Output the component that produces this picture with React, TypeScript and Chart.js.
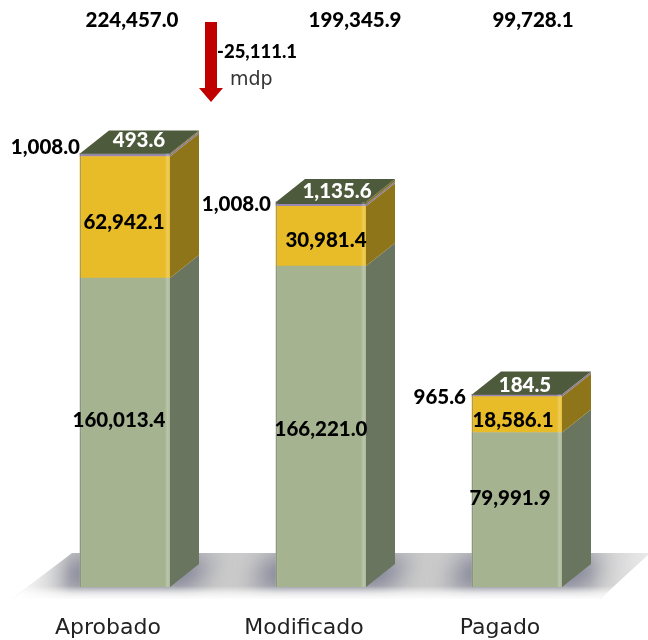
import React, { useEffect, useRef } from "react";
import { Chart, registerables } from "chart.js";

Chart.register(...registerables);

const categories = ["Aprobado", "Modificado", "Pagado"];
const baseValues = [160013.4, 166221.0, 79991.9];
const midValues = [62942.1, 30981.4, 18586.1];
const thinValues = [1008.0, 1008.0, 965.6];
const capValues = [493.6, 1135.6, 184.5];
const totals = ["224,457.0", "199,345.9", "99,728.1"];
const changeLabel = "-25,111.1";
const unitLabel = "mdp";

const FRONT = ["#a6b391", "#e8bc28", "#9a88b4", "#4d5a3b"];
const SIDE = ["#6a7560", "#8f7519", "#8a7a8f", "#7f6f20"];
const TOP = "#4d5a3b";
const DX = 29;
const DY = -23;
const BOLD = "900 20.5px Lato";
const fmt = (v: number) =>
  v.toLocaleString("en-US", { minimumFractionDigits: 1, maximumFractionDigits: 1 });

// label nudges (relative to the bar centre x and the segment centre y)
const baseNudge = [[-6, -12], [0, 3], [-7, -11]];
const midNudge = [[-1, 5], [5, 4], [-4, 6]];
const capNudge = [[14, -13], [16, -11], [8, -9]];
const thinNudge = [[0, -7], [-5, 0], [-6, 3]];
const totalX = [7, 34, 16];

const polygon = (ctx: CanvasRenderingContext2D, pts: number[][], fill: string | CanvasGradient) => {
  ctx.beginPath();
  pts.forEach((p, i) => (i ? ctx.lineTo(p[0], p[1]) : ctx.moveTo(p[0], p[1])));
  ctx.closePath();
  ctx.fillStyle = fill;
  ctx.fill();
};

const floorPlugin = {
  id: "floor",
  beforeDatasetsDraw(chart: any) {
    const ctx = chart.ctx as CanvasRenderingContext2D;
    const b = chart.chartArea.bottom;
    const shape = [[72, b - 34], [650, b - 34], [600, b + 12], [12, b + 12]];
    ctx.save();
    ctx.beginPath();
    shape.forEach((p, i) => (i ? ctx.lineTo(p[0], p[1]) : ctx.moveTo(p[0], p[1])));
    ctx.closePath();
    ctx.clip();
    ctx.fillStyle = "#cbcbcb";
    ctx.fillRect(0, b - 40, 660, 60);
    // soft shadow around every bar foot
    const meta = chart.getDatasetMeta(0);
    ctx.filter = "blur(12px)";
    meta.data.forEach((el: any) => {
      const l = el.x - el.width / 2;
      const r = el.x + el.width / 2;
      polygon(
        ctx,
        [[l - 8, b - 30], [r + DX + 16, b - 30], [r + 22, b + 2], [l - 24, b + 2]],
        "rgba(120,122,142,0.95)"
      );
    });
    ctx.filter = "none";
    // fade of the bottom and outer edges
    const bottom = ctx.createLinearGradient(0, b - 1, 0, b + 12);
    bottom.addColorStop(0, "rgba(255,255,255,0)");
    bottom.addColorStop(0.55, "rgba(255,255,255,0.7)");
    bottom.addColorStop(1, "rgba(255,255,255,0.97)");
    ctx.fillStyle = bottom;
    ctx.fillRect(0, b - 1, 660, 14);
    const left = ctx.createLinearGradient(14, 0, 70, 0);
    left.addColorStop(0, "rgba(255,255,255,1)");
    left.addColorStop(1, "rgba(255,255,255,0)");
    ctx.fillStyle = left;
    ctx.fillRect(0, b - 40, 70, 60);
    const right = ctx.createLinearGradient(590, 0, 648, 0);
    right.addColorStop(0, "rgba(255,255,255,0)");
    right.addColorStop(1, "rgba(255,255,255,0.6)");
    ctx.fillStyle = right;
    ctx.fillRect(590, b - 40, 60, 60);
    ctx.restore();
  },
};

const facesPlugin = {
  id: "faces",
  afterDatasetsDraw(chart: any) {
    const ctx = chart.ctx as CanvasRenderingContext2D;
    const metas = chart.data.datasets.map((_: any, i: number) => chart.getDatasetMeta(i));
    categories.forEach((_, c) => {
      metas.forEach((m: any, s: number) => {
        const el = m.data[c];
        const right = el.x + el.width / 2;
        polygon(
          ctx,
          [[right, el.y], [right + DX, el.y + DY], [right + DX, el.base + DY], [right, el.base]],
          SIDE[s]
        );
      });
      const top = metas[metas.length - 1].data[c];
      const l = top.x - top.width / 2;
      const r = top.x + top.width / 2;
      polygon(ctx, [[l, top.y], [l + DX, top.y + DY], [r + DX, top.y + DY], [r, top.y]], TOP);
      // highlight on the right edge and shade on the left edge of the front
      const first = metas[0].data[c];
      const grad = ctx.createLinearGradient(l, 0, r, 0);
      grad.addColorStop(0, "rgba(70,70,60,0.55)");
      grad.addColorStop(0.025, "rgba(255,255,255,0)");
      grad.addColorStop(0.94, "rgba(255,255,255,0)");
      grad.addColorStop(0.975, "rgba(255,255,255,0.25)");
      grad.addColorStop(1, "rgba(255,255,255,0.05)");
      ctx.fillStyle = grad;
      ctx.fillRect(l, top.y, r - l, first.base - top.y);
    });
  },
  afterDraw(chart: any) {
    const ctx = chart.ctx as CanvasRenderingContext2D;
    const metas = chart.data.datasets.map((_: any, i: number) => chart.getDatasetMeta(i));
    ctx.save();
    ctx.textBaseline = "middle";
    ctx.textAlign = "center";
    ctx.font = BOLD;
    categories.forEach((_, c) => {
      const a = metas[0].data[c];
      const mid = metas[1].data[c];
      const thin = metas[2].data[c];
      const cap = metas[3].data[c];
      const center = (el: any) => (el.y + el.base) / 2;
      ctx.fillStyle = "#000";
      ctx.fillText(fmt(baseValues[c]), a.x + baseNudge[c][0], center(a) + baseNudge[c][1]);
      ctx.fillText(fmt(midValues[c]), mid.x + midNudge[c][0], center(mid) + midNudge[c][1]);
      ctx.fillText(totals[c], a.x + totalX[c], 20);
      ctx.textAlign = "right";
      ctx.fillText(
        fmt(thinValues[c]),
        thin.x - thin.width / 2 + thinNudge[c][0],
        thin.y + thinNudge[c][1]
      );
      ctx.textAlign = "center";
      ctx.fillStyle = "#fff";
      ctx.fillText(fmt(capValues[c]), cap.x + capNudge[c][0], cap.y + capNudge[c][1]);
    });
    // change annotation
    const x0 = metas[0].data[0].x;
    const ax = x0 + 86;
    polygon(
      ctx,
      [[ax - 6, 22], [ax + 6, 22], [ax + 6, 88], [ax + 12, 88], [ax, 102], [ax - 12, 88], [ax - 6, 88]],
      "#c00000"
    );
    ctx.fillStyle = "#000";
    ctx.font = "900 18.5px Lato";
    ctx.textAlign = "left";
    ctx.fillText(changeLabel, ax + 6, 52);
    ctx.font = "19px 'DejaVu Sans'";
    ctx.fillStyle = "#333";
    ctx.fillText(unitLabel, ax + 19, 80);
    ctx.restore();
  },
};

export default function App() {
  const ref = useRef<HTMLCanvasElement>(null);
  useEffect(() => {
    const mk = (label: string, data: number[], i: number) => ({
      label,
      data,
      backgroundColor: FRONT[i],
      stack: "s",
      barThickness: 90,
      borderWidth: 0,
    });
    const chart = new Chart(ref.current!, {
      type: "bar",
      data: {
        labels: categories,
        datasets: [
          mk("Base", baseValues, 0),
          mk("Medio", midValues, 1),
          mk("Delgado", thinValues, 2),
          mk("Superior", capValues, 3),
        ],
      },
      options: {
        responsive: false,
        animation: false,
        layout: { padding: { left: 27, right: 33, top: 0, bottom: 0 } },
        plugins: { legend: { display: false }, tooltip: { enabled: false } },
        scales: {
          y: { display: false, stacked: true, min: 0, max: 304000 },
          x: {
            stacked: true,
            grid: { display: false, drawTicks: false },
            border: { display: false },
            afterFit: (s: any) => {
              s.height = 53;
            },
            ticks: {
              padding: 28,
              labelOffset: -17,
              color: "#222",
              maxRotation: 0,
              font: { family: "'DejaVu Sans'", size: 22 },
            },
          },
        },
      },
      plugins: [floorPlugin, facesPlugin],
    } as any);
    return () => chart.destroy();
  }, []);
  return (
    <canvas
      ref={ref}
      width={648}
      height={640}
      style={{ position: "absolute", left: 0, top: 0, width: 648, height: 640 }}
    />
  );
}
